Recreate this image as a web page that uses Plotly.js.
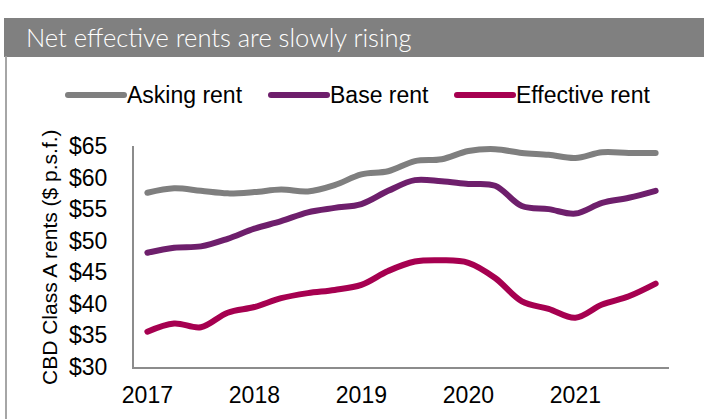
<!DOCTYPE html>
<html>
<head>
<meta charset="utf-8">
<script src="https://cdn.plot.ly/plotly-3.0.1.min.js"></script>
<style>
html,body{margin:0;padding:0;background:#fff;}
#chart{width:704px;height:419px;}
.scatterlayer path.js-line{stroke-linecap:round;}
.shapelayer path{stroke-linecap:round;}
</style>
</head>
<body>
<div id="chart"></div>
<script>
// ---- data ----
const quarters = ['2017 Q1','2017 Q2','2017 Q3','2017 Q4','2018 Q1','2018 Q2','2018 Q3','2018 Q4',
                  '2019 Q1','2019 Q2','2019 Q3','2019 Q4','2020 Q1','2020 Q2','2020 Q3','2020 Q4',
                  '2021 Q1','2021 Q2','2021 Q3','2021 Q4'];
const askingRent    = [57.6, 58.3, 57.9, 57.5, 57.7, 58.1, 57.8, 58.8, 60.5, 61.0, 62.6, 62.9, 64.2, 64.5, 63.9, 63.6, 63.1, 64.0, 63.9, 63.9];
const baseRent      = [48.1, 48.9, 49.1, 50.3, 51.9, 53.1, 54.5, 55.2, 55.8, 57.9, 59.6, 59.4, 59.0, 58.7, 55.5, 55.0, 54.3, 56.0, 56.8, 57.9];
const effectiveRent = [35.6, 36.9, 36.3, 38.6, 39.5, 40.9, 41.7, 42.2, 43.0, 45.2, 46.7, 46.9, 46.5, 44.1, 40.4, 39.2, 37.8, 39.9, 41.2, 43.2];
const seriesNames = ['Asking rent', 'Base rent', 'Effective rent'];
const tickQuarters = ['2017 Q1','2018 Q1','2019 Q1','2020 Q1','2021 Q1'];
const tickYears = ['2017','2018','2019','2020','2021'];
const yTicks = [30, 35, 40, 45, 50, 55, 60, 65];
const yTickLabels = ['$30', '$35', '$40', '$45', '$50', '$55', '$60', '$65'];
const chartTitle = 'Net effective rents are slowly rising';
const yTitle = 'CBD Class A rents ($ p.s.f.)';

// ---- styles ----
const colors = ['#7f7f7f', '#6e1f6c', '#a60050'];
const W = 704, H = 419;
const M = {l: 134, r: 35, t: 146, b: 52};
const PW = W - M.l - M.r, PH = H - M.t - M.b;
const px = x => (x - M.l) / PW;
const py = y => (H - M.b - y) / PH;

const seriesData = [askingRent, baseRent, effectiveRent];
const traces = seriesData.map((vals, i) => ({
  x: quarters, y: vals, type: 'scatter', mode: 'lines', name: seriesNames[i],
  line: {color: colors[i], width: 6, shape: 'spline', smoothing: 1},
  showlegend: false, hoverinfo: 'skip'
}));

const shapes = [
  {type: 'rect', xref: 'paper', yref: 'paper', x0: px(4), x1: px(704), y0: py(57), y1: py(18),
   fillcolor: '#808080', line: {width: 0}, layer: 'below'},
  {type: 'line', xref: 'paper', yref: 'paper', x0: px(6), x1: px(6), y0: py(57), y1: py(419),
   line: {color: '#a6a6a6', width: 2}}
];
const annotations = [];
const legendLines = [[68, 124], [271, 327], [457, 513]];
legendLines.forEach((p, i) => {
  shapes.push({type: 'line', xref: 'paper', yref: 'paper', x0: px(p[0]), x1: px(p[1]), y0: py(95), y1: py(95),
               line: {color: colors[i], width: 6}});
  annotations.push({xref: 'paper', yref: 'paper', x: px(p[1] + 1), y: py(95), xanchor: 'left', yanchor: 'middle',
                    text: seriesNames[i], showarrow: false,
                    font: {family: 'Liberation Sans, Arial, sans-serif', size: 23, color: '#000'}});
});
annotations.push({xref: 'paper', yref: 'paper', x: px(49), y: py(257), xanchor: 'center', yanchor: 'middle',
                  text: yTitle, textangle: -90, showarrow: false,
                  font: {family: 'Liberation Sans, Arial, sans-serif', size: 21, color: '#000'}});

const layout = {
  width: W, height: H,
  margin: M,
  paper_bgcolor: '#fff', plot_bgcolor: '#fff',
  showlegend: false,
  title: {text: chartTitle, xref: 'container', yref: 'container', x: 26 / W, xanchor: 'left',
          y: 1 - 38 / H, yanchor: 'middle',
          font: {family: 'Lato, sans-serif', size: 25.5, color: '#fff', weight: 300}},
  font: {family: 'Liberation Sans, Arial, sans-serif', size: 23, color: '#000'},
  xaxis: {type: 'category', range: [-0.5, 19.5], tickvals: tickQuarters, ticktext: tickYears,
          showgrid: false, zeroline: false, showline: true, linecolor: '#8c8c8c', linewidth: 2,
          ticks: 'outside', ticklen: 6, tickcolor: 'rgba(0,0,0,0)', tickfont: {size: 23}, fixedrange: true},
  yaxis: {range: [30, 65], tickvals: yTicks, ticktext: yTickLabels, showgrid: false, zeroline: false,
          showline: true, linecolor: '#8c8c8c', linewidth: 2,
          ticks: 'outside', ticklen: 20, tickcolor: 'rgba(0,0,0,0)',
          tickfont: {size: 23}, automargin: false, fixedrange: true},
  shapes: shapes,
  annotations: annotations
};

Plotly.newPlot('chart', traces, layout, {staticPlot: true, displayModeBar: false});
</script>
</body>
</html>
